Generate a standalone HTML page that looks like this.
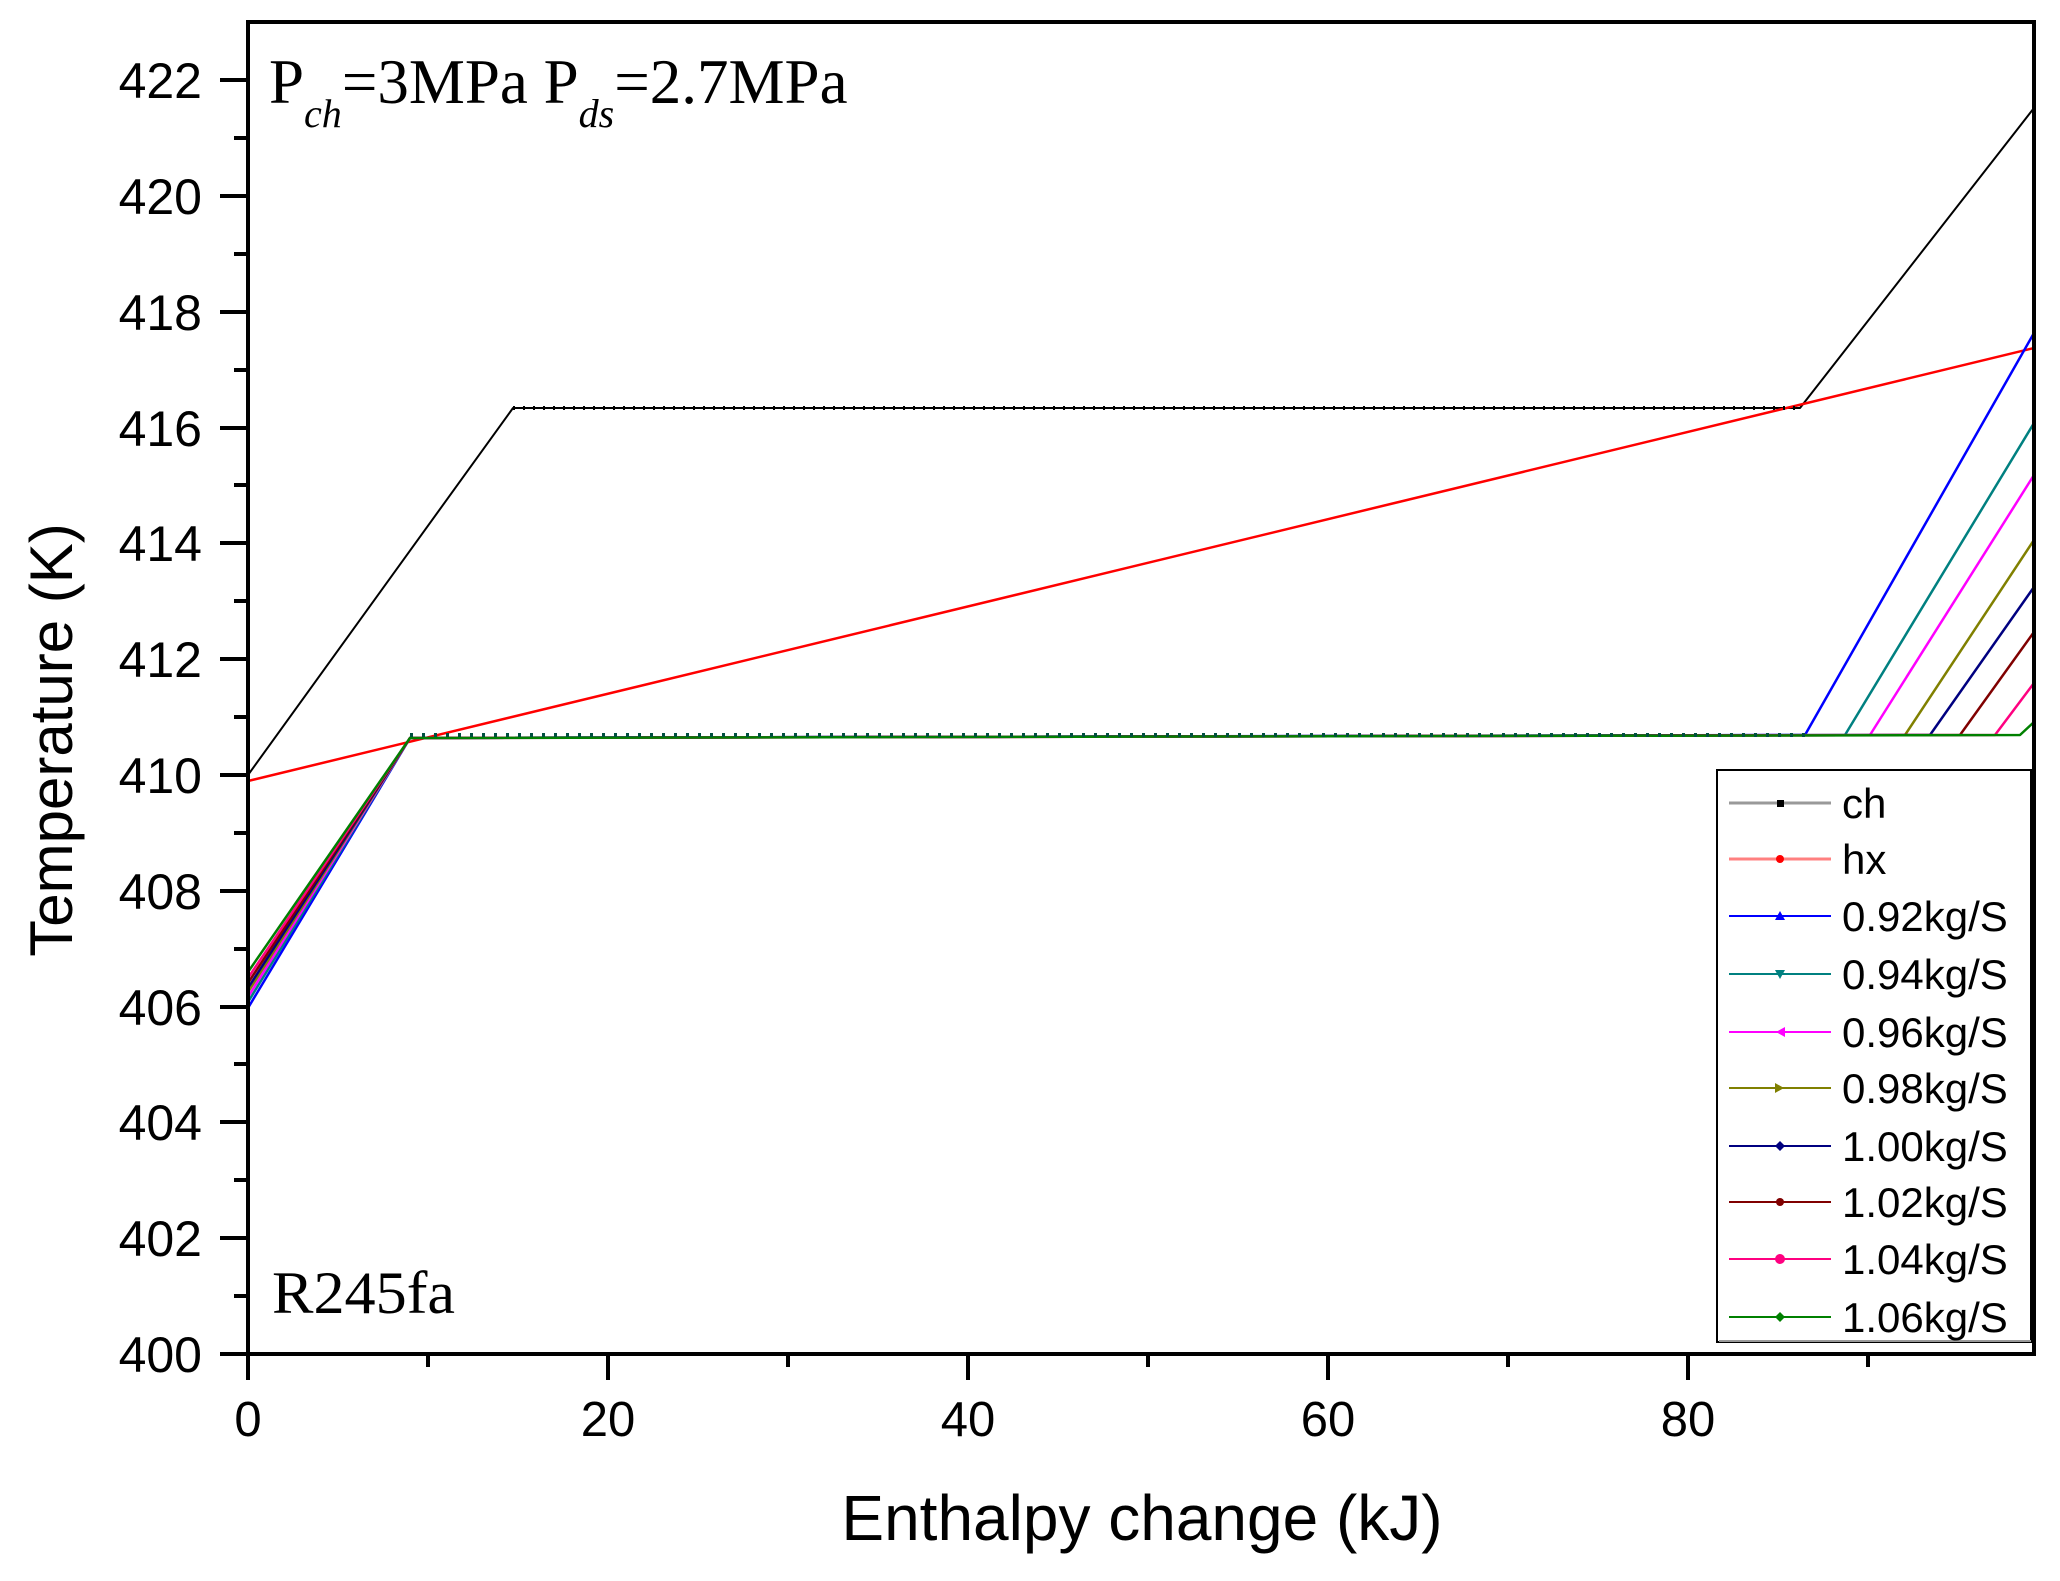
<!DOCTYPE html>
<html><head><meta charset="utf-8"><style>html,body{margin:0;padding:0;background:#fff}svg{display:block}</style></head>
<body>
<svg width="2060" height="1581" viewBox="0 0 2060 1581" xmlns="http://www.w3.org/2000/svg">
<rect width="2060" height="1581" fill="#fff"/>
<g font-family="Liberation Sans, Arial, sans-serif" fill="#000">
<g stroke="#000" stroke-width="4">
<line x1="220" y1="1354" x2="248" y2="1354"/><line x1="234" y1="1296" x2="248" y2="1296"/>
<line x1="220" y1="1238" x2="248" y2="1238"/><line x1="234" y1="1180" x2="248" y2="1180"/>
<line x1="220" y1="1122" x2="248" y2="1122"/><line x1="234" y1="1064" x2="248" y2="1064"/>
<line x1="220" y1="1007" x2="248" y2="1007"/><line x1="234" y1="949" x2="248" y2="949"/>
<line x1="220" y1="891" x2="248" y2="891"/><line x1="234" y1="833" x2="248" y2="833"/>
<line x1="220" y1="775" x2="248" y2="775"/><line x1="234" y1="717" x2="248" y2="717"/>
<line x1="220" y1="659" x2="248" y2="659"/><line x1="234" y1="601" x2="248" y2="601"/>
<line x1="220" y1="543" x2="248" y2="543"/><line x1="234" y1="485" x2="248" y2="485"/>
<line x1="220" y1="428" x2="248" y2="428"/><line x1="234" y1="370" x2="248" y2="370"/>
<line x1="220" y1="312" x2="248" y2="312"/><line x1="234" y1="254" x2="248" y2="254"/>
<line x1="220" y1="196" x2="248" y2="196"/><line x1="234" y1="138" x2="248" y2="138"/>
<line x1="220" y1="80" x2="248" y2="80"/>
<line x1="248" y1="1354" x2="248" y2="1380"/><line x1="428" y1="1354" x2="428" y2="1367"/>
<line x1="608" y1="1354" x2="608" y2="1380"/><line x1="788" y1="1354" x2="788" y2="1367"/>
<line x1="968" y1="1354" x2="968" y2="1380"/><line x1="1148" y1="1354" x2="1148" y2="1367"/>
<line x1="1328" y1="1354" x2="1328" y2="1380"/><line x1="1508" y1="1354" x2="1508" y2="1367"/>
<line x1="1688" y1="1354" x2="1688" y2="1380"/><line x1="1868" y1="1354" x2="1868" y2="1367"/>
</g>
<g font-size="50" text-anchor="end">
<text x="202" y="1372">400</text><text x="202" y="1256">402</text><text x="202" y="1140">404</text>
<text x="202" y="1025">406</text><text x="202" y="909">408</text><text x="202" y="793">410</text>
<text x="202" y="677">412</text><text x="202" y="561">414</text><text x="202" y="446">416</text>
<text x="202" y="330">418</text><text x="202" y="214">420</text><text x="202" y="98">422</text>
</g>
<g font-size="49" text-anchor="middle">
<text x="248" y="1436">0</text><text x="608" y="1436">20</text><text x="968" y="1436">40</text>
<text x="1328" y="1436">60</text><text x="1688" y="1436">80</text>
</g>
<text x="1142" y="1540" font-size="64" text-anchor="middle">Enthalpy change (kJ)</text>
<text transform="translate(72,740) rotate(-90)" font-size="60" text-anchor="middle">Temperature (K)</text>
</g>
<g fill="none" stroke-linejoin="round">
<polyline points="248,775 513,408 1800,408 2034,108" stroke="#000" stroke-width="2"/>
<polyline points="248,781 2034,348" stroke="#ff0000" stroke-width="2.5"/>
<polyline points="248,1008 410,738 1805,735 2034,333" stroke="#0000ff" stroke-width="2.5"/>
<polyline points="248,1002 410,738 1845,735 2034,423" stroke="#008080" stroke-width="2.5"/>
<polyline points="248,997 410,738 1870,735 2034,475" stroke="#ff00ff" stroke-width="2.5"/>
<polyline points="248,992 410,738 1905,735 2034,540" stroke="#808000" stroke-width="2.5"/>
<polyline points="248,988 410,738 1930,735 2034,587" stroke="#000080" stroke-width="2.5"/>
<polyline points="248,983 410,738 1960,735 2034,632" stroke="#800000" stroke-width="2.5"/>
<polyline points="248,978 410,738 1995,735 2034,683" stroke="#ff0080" stroke-width="2.5"/>
<polyline points="248,972 410,738 2020,735 2034,722" stroke="#008000" stroke-width="2.5"/>
<polyline points="410,735 1805,735" stroke="#005040" stroke-width="4" stroke-dasharray="3 9"/>
<polyline points="513,408 1800,408" stroke="#000" stroke-width="4" stroke-dasharray="2 8"/>
</g>
<rect x="248" y="22" width="1786" height="1332" fill="none" stroke="#000" stroke-width="4"/>
<g font-family="Liberation Serif, Times New Roman, serif" fill="#000">
<text x="269" y="103" font-size="63">P<tspan font-size="40" font-style="italic" dy="24">ch</tspan><tspan dy="-24">=3MPa P</tspan><tspan font-size="40" font-style="italic" dy="24">ds</tspan><tspan dy="-24">=2.7MPa</tspan></text>
<text x="272" y="1313" font-size="60" textLength="183" lengthAdjust="spacingAndGlyphs">R245fa</text>
</g>
<rect x="1717" y="770" width="314" height="572" fill="#fff" stroke="#000" stroke-width="2"/>
<line x1="1719" y1="1341" x2="2031" y2="1341" stroke="#999" stroke-width="2"/>
<g stroke-width="3">
<line x1="1729" y1="803" x2="1831" y2="803" stroke="#999"/>
<line x1="1729" y1="859" x2="1831" y2="859" stroke="#ff8080"/>
<line x1="1729" y1="916" x2="1831" y2="916" stroke="#0000ff" stroke-width="2"/>
<line x1="1729" y1="974" x2="1831" y2="974" stroke="#008080" stroke-width="2"/>
<line x1="1729" y1="1032" x2="1831" y2="1032" stroke="#ff00ff" stroke-width="2"/>
<line x1="1729" y1="1088" x2="1831" y2="1088" stroke="#808000" stroke-width="2"/>
<line x1="1729" y1="1146" x2="1831" y2="1146" stroke="#000080" stroke-width="2"/>
<line x1="1729" y1="1202" x2="1831" y2="1202" stroke="#800000" stroke-width="2"/>
<line x1="1729" y1="1259" x2="1831" y2="1259" stroke="#ff0080" stroke-width="2"/>
<line x1="1729" y1="1317" x2="1831" y2="1317" stroke="#008000" stroke-width="2"/>
</g>
<rect x="1777" y="800" width="7" height="7" fill="#000"/>
<circle cx="1780" cy="859" r="4" fill="#ff0000"/>
<polygon points="1780,911 1785,920 1775,920" fill="#0000ff"/>
<polygon points="1775,970 1785,970 1780,979" fill="#008080"/>
<polygon points="1776,1032 1785,1027 1785,1037" fill="#ff00ff"/>
<polygon points="1784,1088 1775,1083 1775,1093" fill="#808000"/>
<polygon points="1780,1141 1785,1146 1780,1151 1775,1146" fill="#000080"/>
<circle cx="1780" cy="1202" r="4" fill="#800000"/>
<circle cx="1780" cy="1259" r="5" fill="#ff0080"/>
<polygon points="1780,1312 1785,1317 1780,1322 1775,1317" fill="#008000"/>
<g font-family="Liberation Sans, Arial, sans-serif" font-size="42" fill="#000">
<text x="1842" y="818">ch</text><text x="1842" y="874">hx</text>
<text x="1842" y="931">0.92kg/S</text><text x="1842" y="989">0.94kg/S</text>
<text x="1842" y="1047">0.96kg/S</text><text x="1842" y="1103">0.98kg/S</text>
<text x="1842" y="1161">1.00kg/S</text><text x="1842" y="1217">1.02kg/S</text>
<text x="1842" y="1274">1.04kg/S</text><text x="1842" y="1332">1.06kg/S</text>
</g>
</svg>
</body></html>
